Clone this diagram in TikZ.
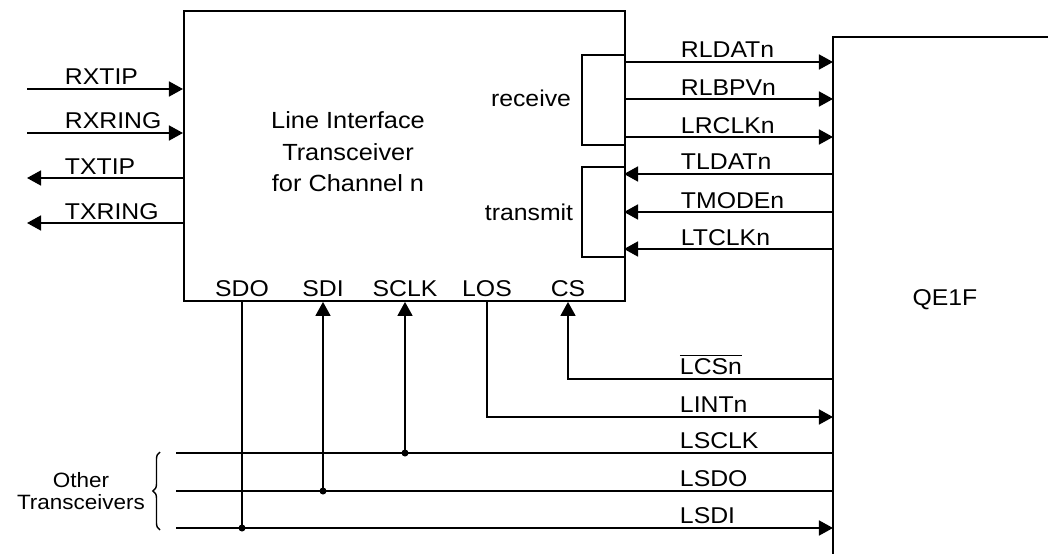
\documentclass[tikz,border=0pt]{standalone}
\usepackage{fontspec}
\setmainfont{Liberation Sans}[FakeStretch=1.085]
\usetikzlibrary{positioning, calc, arrows.meta, decorations.pathreplacing}

\begin{document}
\begin{tikzpicture}[x=0.02cm, y=-0.02cm, line width=1.1pt,
    font=\fontsize{13}{18}\selectfont,
    sig/.style={-{Triangle[length=8pt, width=8.5pt]}},
    siglabel/.style={anchor=base west, inner sep=0pt},
    pinlabel/.style={anchor=base, inner sep=0pt}]
  \useasboundingbox (0,0) rectangle (1048,554);

  % Transceiver block
  \node[draw, anchor=north west, minimum width=8.82cm, minimum height=5.8cm,
        inner sep=0pt] (lit) at (183,10) {};
  \node[align=center, inner sep=0pt, anchor=base,
        font=\fontsize{13.3}{18}\selectfont] (littxt) at (348,192)
        {Line Interface\\Transceiver\\for Channel n};

  % QE1F (left and top edges only)
  \coordinate (qetop) at (833,37);
  \draw (qetop |- 0,554) -- (qetop) -- (1048,37);
  \node[anchor=base, inner sep=0pt] (qe) at (945,305) {QE1F};

  % --- Line side ---
  \foreach \y/\name in {89/RXTIP, 133/RXRING} {
    \coordinate (\name) at (27,\y);
    \draw[sig] (\name) -- (\name -| lit.west);
    \node[siglabel] (l\name) at (64,\y-4) {\name};
  }
  \foreach \y/\name in {178/TXTIP, 223/TXRING} {
    \coordinate (\name) at (27,\y);
    \draw[sig] (\name -| lit.west) -- (\name);
    \node[siglabel] (l\name) at (64,\y-4) {\name};
  }

  % --- Receive / transmit groups ---
  \draw (lit.east |- 0,55) -| (582,145) -- (lit.east |- 0,145);
  \draw (lit.east |- 0,167) -| (582,257) -- (lit.east |- 0,257);
  \node[pinlabel] (rx) at (531,107) {receive};
  \node[pinlabel] (tx) at (529,220) {transmit};

  \foreach \y/\name in {62/RLDATn, 99/RLBPVn, 137/LRCLKn} {
    \coordinate (\name) at (624,\y);
    \draw[sig] (\name) -- (\name -| qetop);
    \node[siglabel] (l\name) at (680,\y-4) {\name};
  }
  \foreach \y/\name in {174/TLDATn, 212/TMODEn, 249/LTCLKn} {
    \coordinate (\name) at (624,\y);
    \draw[sig] (\name -| qetop) -- (\name);
    \node[siglabel] (l\name) at (680,\y-4) {\name};
  }

  % --- Serial port pins ---
  \node[pinlabel] (sdo) at (242,296) {SDO};
  \node[pinlabel] (sdi) at (323,296) {SDI};
  \node[pinlabel] (sclk) at (405,296) {SCLK};
  \node[pinlabel] (los) at (487,296) {LOS};
  \node[pinlabel] (cs) at (568,296) {CS};

  % Chip select and interrupt
  \coordinate (lcs) at (833,379);
  \coordinate (lint) at (833,417);
  \draw[sig] (lcs) -- (lcs -| cs) -- (cs |- lit.south);
  \draw[sig] (los |- lit.south) |- (lint);
  \node[siglabel] (llcs) at (679,374) {$\overline{\mbox{LCSn}}$};
  \node[siglabel] (llint) at (679,412) {LINTn};

  % Shared serial bus
  \coordinate (lsclk) at (176,453);
  \coordinate (lsdo) at (176,491);
  \coordinate (lsdi) at (176,528);
  \draw (lsclk) -- (lsclk -| qetop);
  \draw (lsdo) -- (lsdo -| qetop);
  \draw[sig] (lsdi) -- (lsdi -| qetop);
  \node[siglabel] (llsclk) at (679,448) {LSCLK};
  \node[siglabel] (llsdo) at (679,486) {LSDO};
  \node[siglabel] (llsdi) at (679,523) {LSDI};

  \draw[sig] (sclk |- lsclk) -- (sclk |- lit.south);
  \draw[sig] (sdi |- lsdo) -- (sdi |- lit.south);
  \draw (sdo |- lit.south) -- (sdo |- lsdi);
  \fill (sclk |- lsclk) circle (2pt);
  \fill (sdi |- lsdo) circle (2pt);
  \fill (sdo |- lsdi) circle (2pt);

  % Other transceivers
  \draw[line width=0.8pt, decorate, decoration={brace, amplitude=4pt}]
    (160,530) -- (160,452);
  \node[align=center, inner sep=0pt, anchor=base,
        font=\fontsize{11.8}{12.5}\selectfont] (others) at (81,509)
    {Other\\Transceivers};
\end{tikzpicture}
\end{document}
